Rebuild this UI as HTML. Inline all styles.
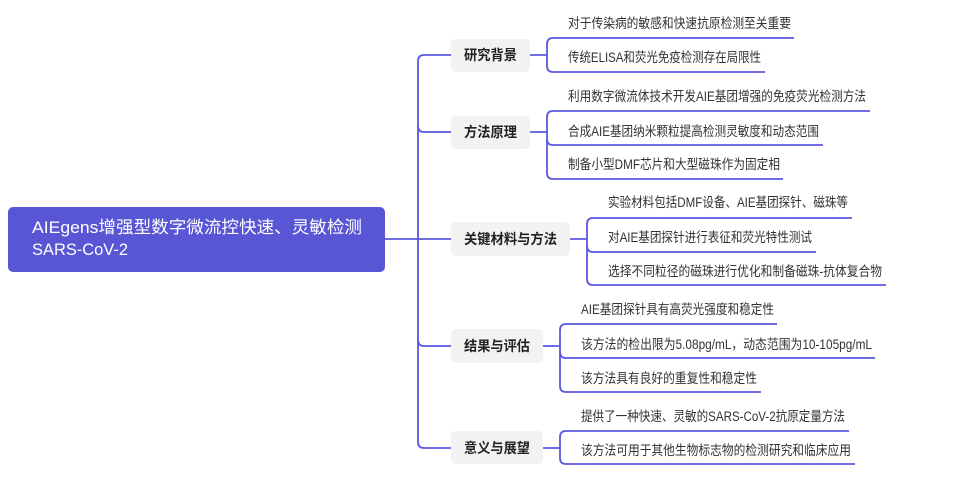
<!DOCTYPE html>
<html><head><meta charset="utf-8"><style>
html,body{margin:0;padding:0;background:#fff;width:955px;height:483px;overflow:hidden}
svg{display:block}
text{font-family:"Liberation Sans","Noto Sans CJK SC",sans-serif}
</style></head><body>
<svg width="955" height="483" viewBox="0 0 955 483" xmlns="http://www.w3.org/2000/svg">
<g fill="none" stroke="#5b57e0" stroke-width="1.8">
<path d="M385,239 L451,239"/>
<path d="M451,55 L424,55 Q418,55 418,61 L418,442 Q418,448 424,448 L451,448"/>
<path d="M418,126 Q418,132 424,132 L451,132"/>
<path d="M418,340 Q418,346 424,346 L451,346"/>
<path d="M530,55 L547,55"/>
<path d="M794,38 L553,38 Q547,38 547,44 L547,66 Q547,72 553,72 L765,72"/>
<path d="M530,132 L547,132"/>
<path d="M870,111 L553,111 Q547,111 547,117 L547,173 Q547,179 553,179 L783,179"/>
<path d="M547,139 Q547,145 553,145 L823,145"/>
<path d="M570,239 L587,239"/>
<path d="M852,218 L593,218 Q587,218 587,224 L587,279 Q587,285 593,285 L886,285"/>
<path d="M587,246 Q587,252 593,252 L816,252"/>
<path d="M543,346 L560,346"/>
<path d="M777,324 L566,324 Q560,324 560,330 L560,386 Q560,392 566,392 L761,392"/>
<path d="M560,352 Q560,358 566,358 L875,358"/>
<path d="M543,448 L560,448"/>
<path d="M849,431 L566,431 Q560,431 560,437 L560,458 Q560,464 566,464 L855,464"/>
</g>
<rect x="8" y="207" width="377" height="65" rx="5" fill="#5956d6"/>
<text x="32" y="233" fill="#fff" font-size="17" textLength="330" lengthAdjust="spacingAndGlyphs">AIEgens增强型数字微流控快速、灵敏检测</text>
<text x="32" y="255" fill="#fff" font-size="17" textLength="96" lengthAdjust="spacingAndGlyphs">SARS-CoV-2</text>
<g fill="#f2f2f2">
<rect x="451" y="39" width="79" height="33" rx="5"/>
<rect x="451" y="116" width="79" height="33" rx="5"/>
<rect x="451" y="222" width="119" height="34" rx="5"/>
<rect x="451" y="329" width="92" height="34" rx="5"/>
<rect x="451" y="431" width="92" height="33" rx="5"/>
</g>
<g fill="#222" font-size="14" font-weight="bold">
<text x="464" y="60" textLength="53" lengthAdjust="spacingAndGlyphs">研究背景</text>
<text x="464" y="137" textLength="53" lengthAdjust="spacingAndGlyphs">方法原理</text>
<text x="464" y="244" textLength="93" lengthAdjust="spacingAndGlyphs">关键材料与方法</text>
<text x="464" y="351" textLength="66" lengthAdjust="spacingAndGlyphs">结果与评估</text>
<text x="464" y="453" textLength="66" lengthAdjust="spacingAndGlyphs">意义与展望</text>
</g>
<g fill="#333" font-size="13.5">
<text x="568" y="28" textLength="223" lengthAdjust="spacingAndGlyphs">对于传染病的敏感和快速抗原检测至关重要</text>
<text x="568" y="62" textLength="193" lengthAdjust="spacingAndGlyphs">传统ELISA和荧光免疫检测存在局限性</text>
<text x="568" y="101" textLength="298" lengthAdjust="spacingAndGlyphs">利用数字微流体技术开发AIE基团增强的免疫荧光检测方法</text>
<text x="568" y="136" textLength="251" lengthAdjust="spacingAndGlyphs">合成AIE基团纳米颗粒提高检测灵敏度和动态范围</text>
<text x="568" y="169" textLength="212" lengthAdjust="spacingAndGlyphs">制备小型DMF芯片和大型磁珠作为固定相</text>
<text x="608" y="207" textLength="240" lengthAdjust="spacingAndGlyphs">实验材料包括DMF设备、AIE基团探针、磁珠等</text>
<text x="608" y="242" textLength="204" lengthAdjust="spacingAndGlyphs">对AIE基团探针进行表征和荧光特性测试</text>
<text x="608" y="276" textLength="274" lengthAdjust="spacingAndGlyphs">选择不同粒径的磁珠进行优化和制备磁珠-抗体复合物</text>
<text x="581" y="314" textLength="193" lengthAdjust="spacingAndGlyphs">AIE基团探针具有高荧光强度和稳定性</text>
<text x="581" y="349" textLength="291" lengthAdjust="spacingAndGlyphs">该方法的检出限为5.08pg/mL，动态范围为10-105pg/mL</text>
<text x="581" y="383" textLength="176" lengthAdjust="spacingAndGlyphs">该方法具有良好的重复性和稳定性</text>
<text x="581" y="421" textLength="264" lengthAdjust="spacingAndGlyphs">提供了一种快速、灵敏的SARS-CoV-2抗原定量方法</text>
<text x="581" y="455" textLength="270" lengthAdjust="spacingAndGlyphs">该方法可用于其他生物标志物的检测研究和临床应用</text>
</g>
</svg>
</body></html>
